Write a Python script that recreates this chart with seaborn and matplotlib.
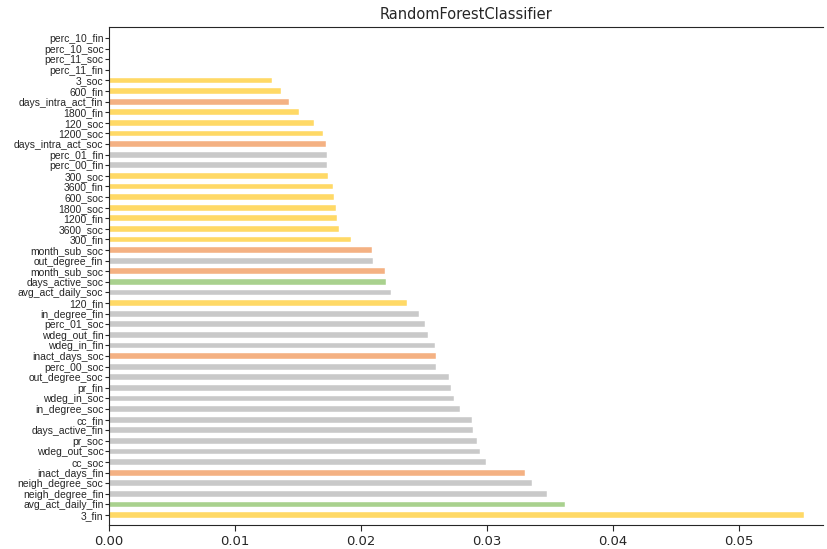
import numpy as np
import pandas as pd
import matplotlib
matplotlib.use('Agg')
import matplotlib.pyplot as plt
import seaborn as sns

# feature importances, listed top to bottom as in the chart
features = [
    'perc_10_fin', 'perc_10_soc', 'perc_11_soc', 'perc_11_fin', '3_soc',
    '600_fin', 'days_intra_act_fin', '1800_fin', '120_soc', '1200_soc',
    'days_intra_act_soc', 'perc_01_fin', 'perc_00_fin', '300_soc', '3600_fin',
    '600_soc', '1800_soc', '1200_fin', '3600_soc', '300_fin',
    'month_sub_soc', 'out_degree_fin', 'month_sub_soc', 'days_active_soc', 'avg_act_daily_soc',
    '120_fin', 'in_degree_fin', 'perc_01_soc', 'wdeg_out_fin', 'wdeg_in_fin',
    'inact_days_soc', 'perc_00_soc', 'out_degree_soc', 'pr_fin', 'wdeg_in_soc',
    'in_degree_soc', 'cc_fin', 'days_active_fin', 'pr_soc', 'wdeg_out_soc',
    'cc_soc', 'inact_days_fin', 'neigh_degree_soc', 'neigh_degree_fin', 'avg_act_daily_fin',
    '3_fin',
]
importance = [
    0.0, 0.0, 0.0, 0.0, 0.01291,
    0.01362, 0.01426, 0.01508, 0.01624, 0.01701,
    0.01722, 0.01733, 0.01730, 0.01743, 0.01781,
    0.01788, 0.01802, 0.01812, 0.01823, 0.01918,
    0.02087, 0.02098, 0.02190, 0.02198, 0.02243,
    0.02370, 0.02460, 0.02513, 0.02532, 0.02585,
    0.02593, 0.02595, 0.02698, 0.02712, 0.02738,
    0.02786, 0.02886, 0.02892, 0.02921, 0.02950,
    0.02992, 0.03307, 0.03362, 0.03481, 0.03619,
    0.05518,
]
group = [
    'grey', 'grey', 'grey', 'grey', 'time',
    'time', 'activity', 'time', 'time', 'time',
    'activity', 'grey', 'grey', 'time', 'time',
    'time', 'time', 'time', 'time', 'time',
    'activity', 'grey', 'activity', 'daily', 'grey',
    'time', 'grey', 'grey', 'grey', 'grey',
    'activity', 'grey', 'grey', 'grey', 'grey',
    'grey', 'grey', 'grey', 'grey', 'grey',
    'grey', 'activity', 'grey', 'grey', 'daily',
    'time',
]
palette = {'time': '#ffd966', 'activity': '#f4b183', 'daily': '#a9d18e', 'grey': '#c9c9c9'}

df = pd.DataFrame({'pos': np.arange(len(features)), 'feature': features,
                   'importance': importance, 'group': group})

sns.set_style('ticks')
fig = plt.figure(figsize=(8.27, 5.49), dpi=100)
ax = fig.add_axes([0.1318, 0.0437, 0.8634, 0.9071])

sns.barplot(data=df, x='importance', y='pos', hue='group', palette=palette,
            orient='h', dodge=False, legend=False, width=0.55, saturation=1,
            ax=ax, edgecolor='white', linewidth=0.3)

ax.set_yticks(df['pos'])
ax.set_yticklabels(features, fontsize=7.5, family='Liberation Sans')
ax.set_ylim(len(features) - 1 + 0.94, -1.04)
ax.set_xlim(0, 0.0567)
ax.set_xticks([0.0, 0.01, 0.02, 0.03, 0.04, 0.05])
ax.set_xticklabels(['0.00', '0.01', '0.02', '0.03', '0.04', '0.05'], fontsize=9.5)
ax.tick_params(axis='y', length=3, pad=1)
ax.tick_params(axis='x', length=4)
ax.set_xlabel('')
ax.set_ylabel('')
ax.spines['right'].set_visible(False)
ax.set_title('RandomForestClassifier', fontsize=10.5, pad=6)

fig.savefig('out.png', dpi=100)
